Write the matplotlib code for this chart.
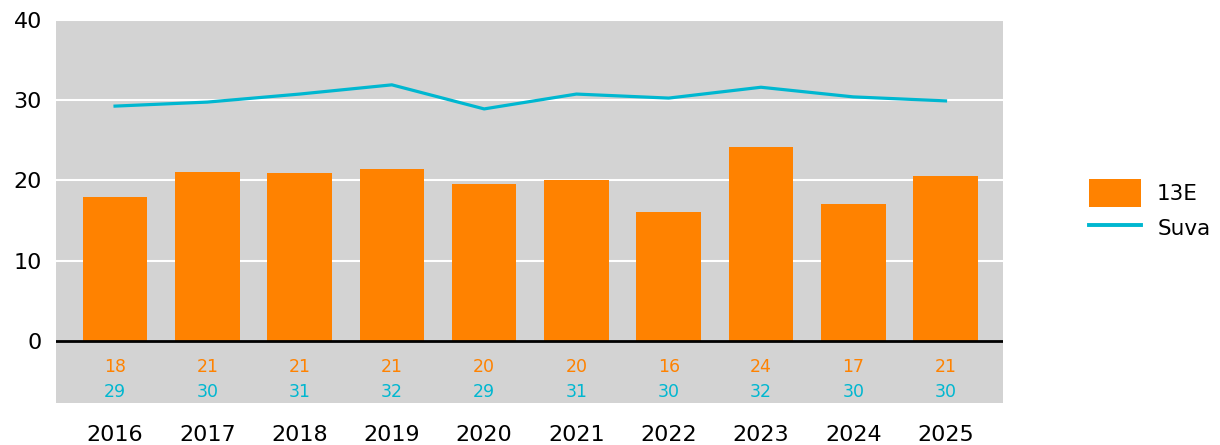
import numpy as np
import matplotlib.pyplot as plt
from matplotlib.patches import Patch
from matplotlib.lines import Line2D

years = ['2016', '2017', '2018', '2019', '2020', '2021', '2022', '2023', '2024', '2025']
e13 = [17.9, 21.1, 20.9, 21.4, 19.6, 20.1, 16.0, 24.1, 17.1, 20.6]
suva = [29.25, 29.75, 30.75, 31.9, 28.9, 30.75, 30.25, 31.6, 30.4, 29.9]

orange = '#ff8200'
cyan = '#00b7d0'
grey = '#d3d3d3'

plt.rcParams['font.family'] = 'DejaVu Sans'

fig = plt.figure(figsize=(12.2, 4.45), dpi=100)
ax = fig.add_axes([0.0459, 0.0944, 0.776, 0.861])
ax.set_facecolor(grey)

x = np.arange(len(years))
ax.bar(x, e13, width=0.70, color=orange, zorder=3)
ax.plot(x, suva, color=cyan, lw=2.3, zorder=4)

# value rows under the zero line
for i in x:
    ax.text(i, -3.25, str(round(e13[i])), color=orange, fontsize=12.5,
            ha='center', va='center')
    ax.text(i, -6.4, str(round(suva[i])), color=cyan, fontsize=12.5,
            ha='center', va='center')

ax.set_xlim(-0.64, 9.62)
ax.set_ylim(-7.75, 40)
ax.set_yticks([0, 10, 20, 30, 40])
for v in [10, 20, 30, 40]:
    ax.axhline(v, color='white', lw=1.5, zorder=1)
ax.axhline(0, color='black', lw=2, zorder=5)

ax.set_xticks(x)
ax.set_xticklabels(years)
ax.tick_params(axis='both', length=0, labelsize=16)
ax.tick_params(axis='y', pad=10)
ax.tick_params(axis='x', pad=16)
for s in ax.spines.values():
    s.set_visible(False)

handles = [Patch(facecolor=orange, label='13E'),
           Line2D([0], [0], color=cyan, lw=2.8, label='Suva')]
fig.legend(handles=handles, loc='center left', bbox_to_anchor=(0.877, 0.527),
           frameon=False, fontsize=15.5, handlelength=2.4, handleheight=1.6,
           handletextpad=0.75, labelspacing=0.35)

fig.savefig('out.png', dpi=100)
